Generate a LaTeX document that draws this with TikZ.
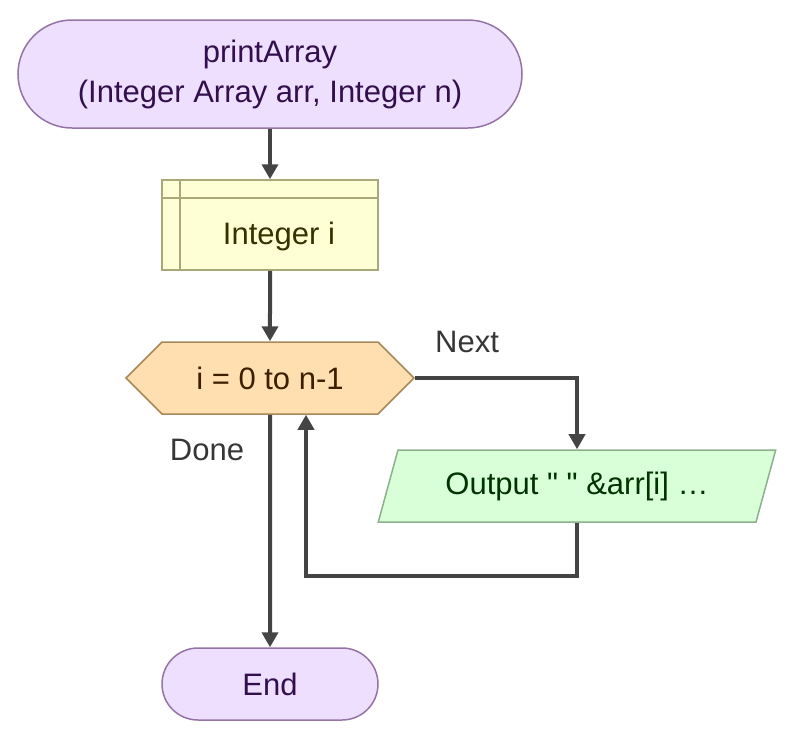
\documentclass[tikz,border=0pt]{standalone}
\usepackage{fontspec}
\setmainfont{Liberation Sans}[Ligatures=TeXOff]
\usetikzlibrary{shapes.geometric, shapes.misc, shapes.symbols, arrows.meta}

\definecolor{termfill}{RGB}{238,223,255}
\definecolor{termline}{RGB}{150,115,166}
\definecolor{termtext}{RGB}{51,16,77}
\definecolor{declfill}{RGB}{255,255,214}
\definecolor{declline}{RGB}{168,168,120}
\definecolor{decltext}{RGB}{51,51,0}
\definecolor{loopfill}{RGB}{255,223,175}
\definecolor{loopline}{RGB}{168,136,90}
\definecolor{looptext}{RGB}{61,31,0}
\definecolor{outfill}{RGB}{217,255,217}
\definecolor{outline}{RGB}{140,176,140}
\definecolor{outtext}{RGB}{0,51,0}
\definecolor{flowline}{RGB}{68,68,68}

\tikzset{
  every node/.style={font=\fontsize{31}{40}\selectfont, inner sep=0pt},
  term/.style={rounded rectangle, draw=termline, fill=termfill, text=termtext, line width=1.5pt, align=center},
  decl/.style={rectangle, draw=declline, fill=declfill, line width=1.5pt,
    minimum width=216, minimum height=90,
    path picture={\draw[declline, line width=1.5pt]
      ([xshift=18]path picture bounding box.north west) -- ([xshift=18]path picture bounding box.south west)
      ([yshift=-18]path picture bounding box.north west) -- ([yshift=-18]path picture bounding box.north east);}},
  loopbox/.style={signal, signal to=west and east, signal pointer angle=90, draw=loopline, fill=loopfill,
    text=looptext, line width=1.5pt, minimum width=288, minimum height=72},
  outbox/.style={trapezium, trapezium left angle=63.4, trapezium right angle=116.6, trapezium stretches=true,
    draw=outline, fill=outfill, text=outtext, line width=1.5pt, minimum width=398, minimum height=72},
  flow/.style={draw=flowline, line width=4pt, -{Triangle[length=15pt, width=16pt]}},
  lbl/.style={text=flowline!80!black}
}

\begin{document}
\begin{tikzpicture}[x=1pt, y=-1pt]
  \useasboundingbox (0,0) rectangle (793,739);

  % nodes
  \node[term, minimum width=504, minimum height=108] (start) at (270,74) {printArray\\(Integer Array arr, Integer n)};
  \node[decl] (decl) at (270,225) {};
  \node[text=decltext] (declname) at (279,236) {Integer i};
  \node[loopbox] (loop) at (270,378) {i = 0 to n-1};
  \node[outbox] (out) at (577,486) {Output " " \&arr[i] \ldots};
  \node[term, minimum width=216, minimum height=72] (end) at (270,684) {End};

  \node[lbl] (next) at (467,342) {Next};
  \node[lbl] (done) at (207,450) {Done};
  \coordinate (back) at (306,576);

  % connectors
  \draw[flow] (start.south) -- (decl);
  \draw[flow] (decl) -- (loop);
  \draw[flow] (loop.east) -| (out.north);
  \draw[flow] (out.south) |- (back) -- (back |- loop.south);
  \draw[flow] (loop.south) -- (end);
\end{tikzpicture}
\end{document}
